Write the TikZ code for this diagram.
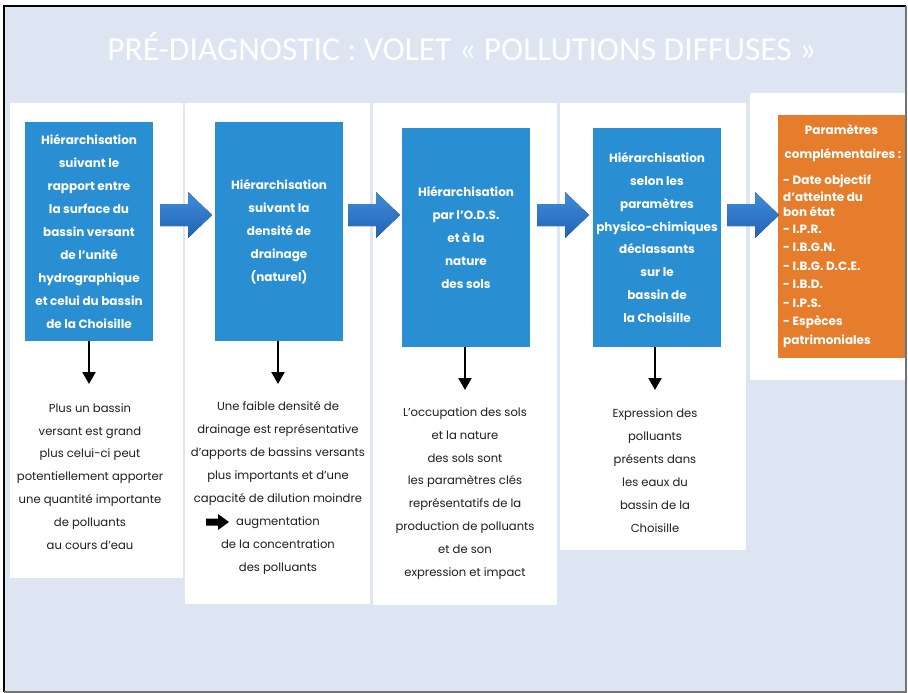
\documentclass[tikz,border=0pt]{standalone}
\usepackage{fontspec}
\setmainfont{Poppins}
\newfontfamily\titlefont{Carlito}
\usetikzlibrary{arrows.meta}
\definecolor{bgblue}{HTML}{DCE5F1}
\definecolor{boxblue}{HTML}{2A8FD2}
\definecolor{arrtop}{HTML}{3F8DDA}
\definecolor{arrbot}{HTML}{2262B4}
\definecolor{boxorange}{HTML}{E67D2C}
\definecolor{inkdark}{HTML}{1E1E1E}
\begin{document}
\begin{tikzpicture}[x=1pt,y=-1pt,
  panel/.style={fill=white},
  bluebox/.style={fill=boxblue, inner sep=0pt, minimum width=128pt, text=white, align=center,
    font=\bfseries\fontsize{12}{22.9}\selectfont},
  lowtxt/.style={text=inkdark, align=center, inner sep=0pt, font=\fontsize{11.6}{22.9}\selectfont},
  otxt/.style={text=white, inner sep=0pt, font=\bfseries\fontsize{12}{14}\selectfont},
  downarr/.style={draw=black, line width=2.2pt, -{Triangle[width=13pt,length=12pt]}},
  blockarr/.style={top color=arrtop, bottom color=arrbot}
]
\useasboundingbox (0,0) rectangle (908,693);
\fill[white] (0,0) rectangle (908,693);
\fill[bgblue] (3,6) rectangle (906,692);

% title
\node[anchor=base, text=white, inner sep=0pt, font=\titlefont\fontsize{33.5}{34}\selectfont] (title) at (462,60)
  {PRÉ-DIAGNOSTIC : VOLET « POLLUTIONS DIFFUSES »};

% white panels
\fill[panel] (10,103) rectangle (183,578);
\fill[panel] (185,103) rectangle (370,604);
\fill[panel] (373,103) rectangle (557,605);
\fill[panel] (560,103) rectangle (746,550);
\fill[panel] (750,93) rectangle (906,380);

% blue boxes
\node[bluebox, minimum height=219pt] (b1) at (89,231.5)
  {Hiérarchisation\\suivant le\\rapport entre\\la surface du\\bassin versant\\de l’unité\\hydrographique\\et celui du bassin\\de la Choisille};
\node[bluebox, minimum height=219pt] (b2) at (279,231.5)
  {Hiérarchisation\\suivant la\\densité de\\drainage\\(naturel)};
\node[bluebox, minimum height=219pt] (b3) at (466,237.5)
  {Hiérarchisation\\par l’O.D.S.\\et à la\\nature\\des sols};
\node[bluebox, minimum height=219pt] (b4) at (657,237.5)
  {Hiérarchisation\\selon les\\paramètres\\physico-chimiques\\déclassants\\sur le\\bassin de\\la Choisille};

% orange box
\node[fill=boxorange, minimum width=127pt, minimum height=243pt, inner sep=0pt] (ob) at (841.5,236.5) {};
\node[otxt] (o1) at (841.5,130) {Paramètres};
\node[otxt] (o2) at (843,155) {complémentaires :};
\node[otxt, anchor=west] (o3) at (783,181) {- Date objectif};
\node[otxt, anchor=west] (o4) at (783,197) {d’atteinte du};
\node[otxt, anchor=west] (o5) at (783,212) {bon état};
\node[otxt, anchor=west] (o6) at (783,229) {- I.P.R.};
\node[otxt, anchor=west] (o7) at (783,247) {- I.B.G.N.};
\node[otxt, anchor=west] (o8) at (783,266) {- I.B.G. D.C.E.};
\node[otxt, anchor=west] (o9) at (783,284) {- I.B.D.};
\node[otxt, anchor=west] (o10) at (783,303) {- I.P.S.};
\node[otxt, anchor=west] (o11) at (783,322) {- Espèces};
\node[otxt, anchor=west] (o12) at (783,341) {patrimoniales};

% block arrows between boxes
\foreach \n/\x in {a1/160, a2/348, a3/537, a4/727}{
  \coordinate (\n) at (\x,215);
  \fill[blockarr] (\n) ++(0,-11) -- ++(28,0) -- ++(0,-12) -- ++(24,23) -- ++(-24,23) -- ++(0,-12) -- ++(-28,0) -- cycle;
}

% lower texts
\node[lowtxt] (t1) at (90,476.5)
  {Plus un bassin\\versant est grand\\plus celui-ci peut\\potentiellement apporter\\une quantité importante\\de polluants\\au cours d’eau};
\node[lowtxt] (t2) at (278,488)
  {Une faible densité de\\drainage est représentative\\d’apports de bassins versants\\plus importants et d’une\\capacité de dilution moindre\\augmentation\\de la concentration\\des polluants};
\node[lowtxt] (t3) at (465,493.5)
  {L’occupation des sols\\et la nature\\des sols sont\\les paramètres clés\\représentatifs de la\\production de polluants\\et de son\\expression et impact};
\node[lowtxt] (t4) at (655,470.5)
  {Expression des\\polluants\\présents dans\\les eaux du\\bassin de la\\Choisille};

% small arrow icon
\coordinate (ic) at (206,522);
\fill[black] (ic) ++(0,-3.5) -- ++(12,0) -- ++(0,-4.5) -- ++(11,8) -- ++(-11,8) -- ++(0,-4.5) -- ++(-12,0) -- cycle;

% down arrows
\coordinate (d1) at (89,384);
\coordinate (d2) at (278,384);
\coordinate (d3) at (465,390);
\coordinate (d4) at (655,390);
\draw[downarr] (b1.south) -- (d1);
\draw[downarr] (b2.south -| d2) -- (d2);
\draw[downarr] (b3.south -| d3) -- (d3);
\draw[downarr] (b4.south -| d4) -- (d4);

% frame
\draw[black, line width=2.2pt] (4,692) -- (4,6) -- (906,6);
\draw[black!55, line width=1.2pt] (906,6) -- (906,692) -- (4,692);
\end{tikzpicture}
\end{document}
